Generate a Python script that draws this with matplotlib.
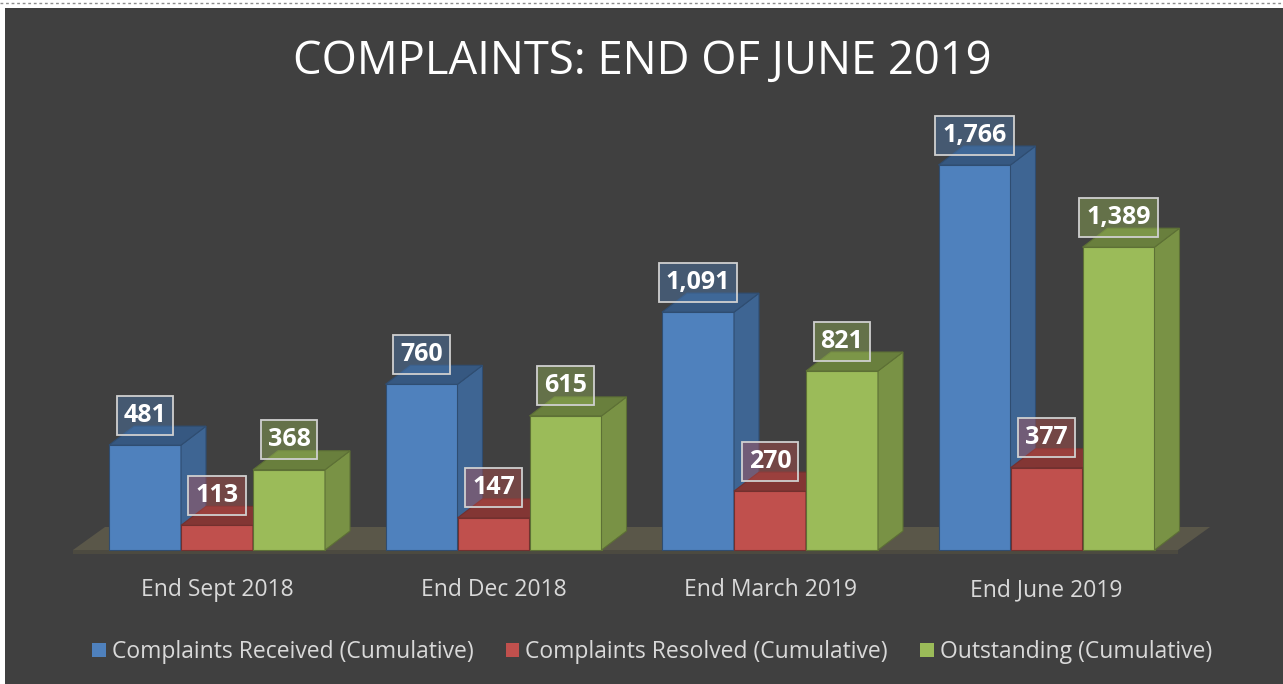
import numpy as np
import matplotlib.pyplot as plt
from matplotlib.patches import Polygon, Rectangle, Patch
from matplotlib.colors import to_rgba, to_rgb

plt.rcParams['font.family'] = ['Open Sans', 'DejaVu Sans']

# ---------------- data ----------------
categories = ['End Sept 2018', 'End Dec 2018', 'End March 2019', 'End June 2019']
received = [481, 760, 1091, 1766]
resolved = [113, 147, 270, 377]
outstanding = [368, 615, 821, 1389]
series_names = ['Complaints Received (Cumulative)',
                'Complaints Resolved (Cumulative)',
                'Outstanding (Cumulative)']
series_colors = ['#4f81bd', '#c0504d', '#9bbb59']
title = 'COMPLAINTS: END OF JUNE 2019'

series = [received, resolved, outstanding]

# ---------------- layout (pixels of a 1283x684 canvas) ----------------
W, H = 1283, 684
PX_X = 276.5      # pixels per category
X0 = 217          # pixel x of first group centre
PX_Y = 0.218      # pixels per complaint
BASE = 550        # pixel y of value 0
L, R, T, B = 40, 1240, 90, 560


def shade(c, f):
    r, g, b = to_rgb(c)
    return (r * f, g * f, b * f)


fig = plt.figure(figsize=(W / 100, H / 100), dpi=100)
fig.patch.set_facecolor('white')
fig.add_artist(Rectangle((5 / W, 0), 1 - 5 / W, 1 - 8 / H, transform=fig.transFigure,
                         fc='#404040', ec='none', zorder=0))
fig.add_artist(plt.Line2D([0, 1], [1 - 2.5 / H, 1 - 2.5 / H], transform=fig.transFigure,
                          color='#8c8c8c', lw=1, ls=(0, (2, 2))))

ax = fig.add_axes([L / W, 1 - B / H, (R - L) / W, (B - T) / H])
ax.set_facecolor('none')
ax.set_xlim((L - X0) / PX_X, (R - X0) / PX_X)
ax.set_ylim((BASE - B) / PX_Y, (BASE - T) / PX_Y)
for s in ax.spines.values():
    s.set_visible(False)
ax.set_yticks([])

bw = 72 / PX_X          # bar width
dx = 25 / PX_X          # depth offset
dy = 19 / PX_Y

# floor
fx0, fx1 = (73 - X0) / PX_X, (1178 - X0) / PX_X
fdx, fdy = 32 / PX_X, 23 / PX_Y
ft = 4 / PX_Y
ax.add_patch(Polygon([(fx0, 0), (fx1, 0), (fx1 + fdx, fdy), (fx0 + fdx, fdy)],
                     closed=True, fc='#5a5749', ec='none', zorder=1))
ax.add_patch(Polygon([(fx0, -ft), (fx1, -ft), (fx1, 0), (fx0, 0)],
                     closed=True, fc='#4c4a40', ec='none', zorder=1))

# bars
z = 2
for i in range(len(categories)):
    for j, vals in enumerate(series):
        v = vals[i]
        c = series_colors[j]
        x = i - 1.5 * bw + j * bw
        edge = shade(c, 0.6)
        ax.add_patch(Rectangle((x, 0), bw, v, fc=c, ec=edge, lw=0.8, zorder=z))
        ax.add_patch(Polygon([(x + bw, 0), (x + bw + dx, dy), (x + bw + dx, v + dy), (x + bw, v)],
                             closed=True, fc=shade(c, 0.78), ec=edge, lw=0.8, zorder=z))
        ax.add_patch(Polygon([(x, v), (x + dx, v + dy), (x + bw + dx, v + dy), (x + bw, v)],
                             closed=True, fc=shade(c, 0.68), ec=edge, lw=0.8, zorder=z))
        z += 1

# value labels
for i in range(len(categories)):
    for j, vals in enumerate(series):
        v = vals[i]
        x = i - 1.5 * bw + j * bw
        ax.text(x + bw / 2, v + 30 / PX_Y, f'{v:,}', ha='center', va='center',
                color='white', fontsize=18, fontweight='bold', zorder=50,
                bbox=dict(boxstyle='square,pad=0.28', fc=to_rgba(series_colors[j], 0.4),
                          ec='#d0d0d0', lw=1.3))

ax.set_xticks(range(len(categories)))
ax.set_xticklabels(categories, color='#d9d9d9', fontsize=16.5)
ax.tick_params(axis='x', length=0, pad=13)

fig.text(642 / W, 1 - 62 / H, title, ha='center', va='center', color='white', fontsize=32.7)

handles = [Patch(fc=c, ec='none') for c in series_colors]
fig.legend(handles, series_names, loc='center', bbox_to_anchor=(652 / W, 1 - 652 / H),
           ncol=3, frameon=False, fontsize=16.5, labelcolor='#d9d9d9',
           handlelength=0.6, handleheight=0.6, handletextpad=0.26, columnspacing=1.4)

fig.savefig('out.png', dpi=100, facecolor=fig.get_facecolor())
